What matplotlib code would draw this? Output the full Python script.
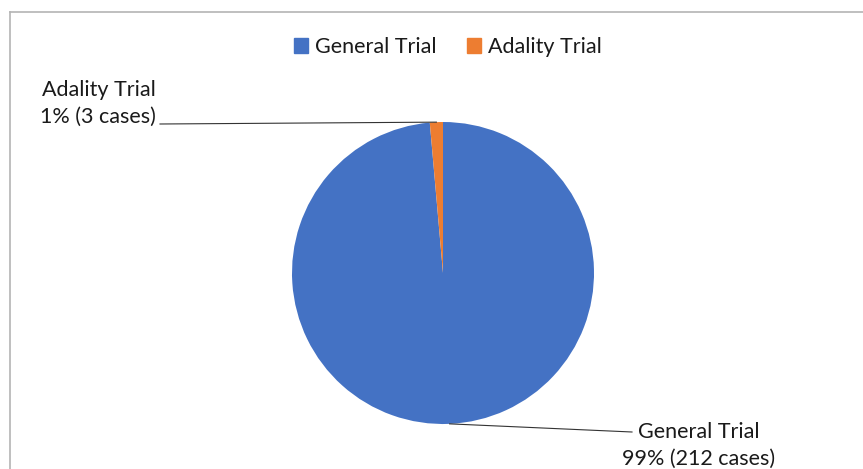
import matplotlib
matplotlib.use("Agg")
import matplotlib.pyplot as plt
import matplotlib.patches as mpatches
from matplotlib.lines import Line2D
import numpy as np

# ── Data ────────────────────────────────────────────────────
labels = ["General Trial", "Adality Trial"]
cases = [212, 3]
percents = ["99%", "1%"]

BLUE = "#4472C4"
ORANGE = "#ED7D31"
TEXT = "#1a1a1a"
colors = [BLUE, ORANGE]

plt.rcParams["font.family"] = ["Lato", "DejaVu Sans"]

W, H = 863, 469
fig = plt.figure(figsize=(W / 100, H / 100), dpi=100)
fig.patch.set_facecolor("white")

# pie axes: centre (443, 273) px, radius ~151 px
cx, cy, r = 443, 273, 151
ax = fig.add_axes([(cx - r) / W, (H - cy - r) / H, 2 * r / W, 2 * r / H])
ax.pie(cases, colors=colors, startangle=90, counterclock=False,
       wedgeprops={"linewidth": 0})
ax.set_xlim(-1, 1)
ax.set_ylim(-1, 1)
ax.set_aspect("equal")
ax.axis("off")

def px(x, y):
    """pixel position -> pie data coords"""
    return (x - cx) / r, (cy - y) / r

# ── data labels with leader lines ───────────────────────────
total = sum(cases)
start = 90.0
mids = []
for v in cases:
    span = 360.0 * v / total
    mids.append(np.deg2rad(start - span / 2))
    start -= span

# Adality Trial label (left)
a = mids[1]
ex, ey = px(160, 124)
ax.plot([np.cos(a), ex], [np.sin(a), ey], color="#333333", lw=0.8,
        clip_on=False)
tx, ty = px(156, 103)
ax.text(tx, ty, f"{labels[1]}\n{percents[1]} ({cases[1]} cases)",
        ha="right", va="center", fontsize=15.5, color=TEXT,
        linespacing=1.42, clip_on=False)

# General Trial label (bottom right)
a = mids[0]
ex, ey = px(632, 432)
ax.plot([np.cos(a), ex], [np.sin(a), ey], color="#333333", lw=0.8,
        clip_on=False)
tx, ty = px(699, 445)
ax.text(tx, ty, f"{labels[0]}\n{percents[0]} ({cases[0]} cases)",
        ha="center", va="center", fontsize=15.5, color=TEXT,
        linespacing=1.42, clip_on=False)

# ── legend ──────────────────────────────────────────────────
handles = [mpatches.Patch(color=c, label=l) for c, l in zip(colors, labels)]
fig.legend(handles=handles, loc="center", bbox_to_anchor=(448 / W, 1 - 47 / H),
           ncol=2, frameon=False, fontsize=15.5, handlelength=0.65,
           handleheight=0.65, handletextpad=0.35, columnspacing=1.4,
           labelcolor=TEXT)

# ── chart border (top and left visible) ─────────────────────
fig.add_artist(Line2D([10 / W, 1], [1 - 12 / H, 1 - 12 / H],
                      color="#b4b4b4", lw=1.2, transform=fig.transFigure))
fig.add_artist(Line2D([10 / W, 10 / W], [0, 1 - 12 / H],
                      color="#b4b4b4", lw=1.2, transform=fig.transFigure))

fig.savefig("out.png", dpi=100, facecolor="white")
